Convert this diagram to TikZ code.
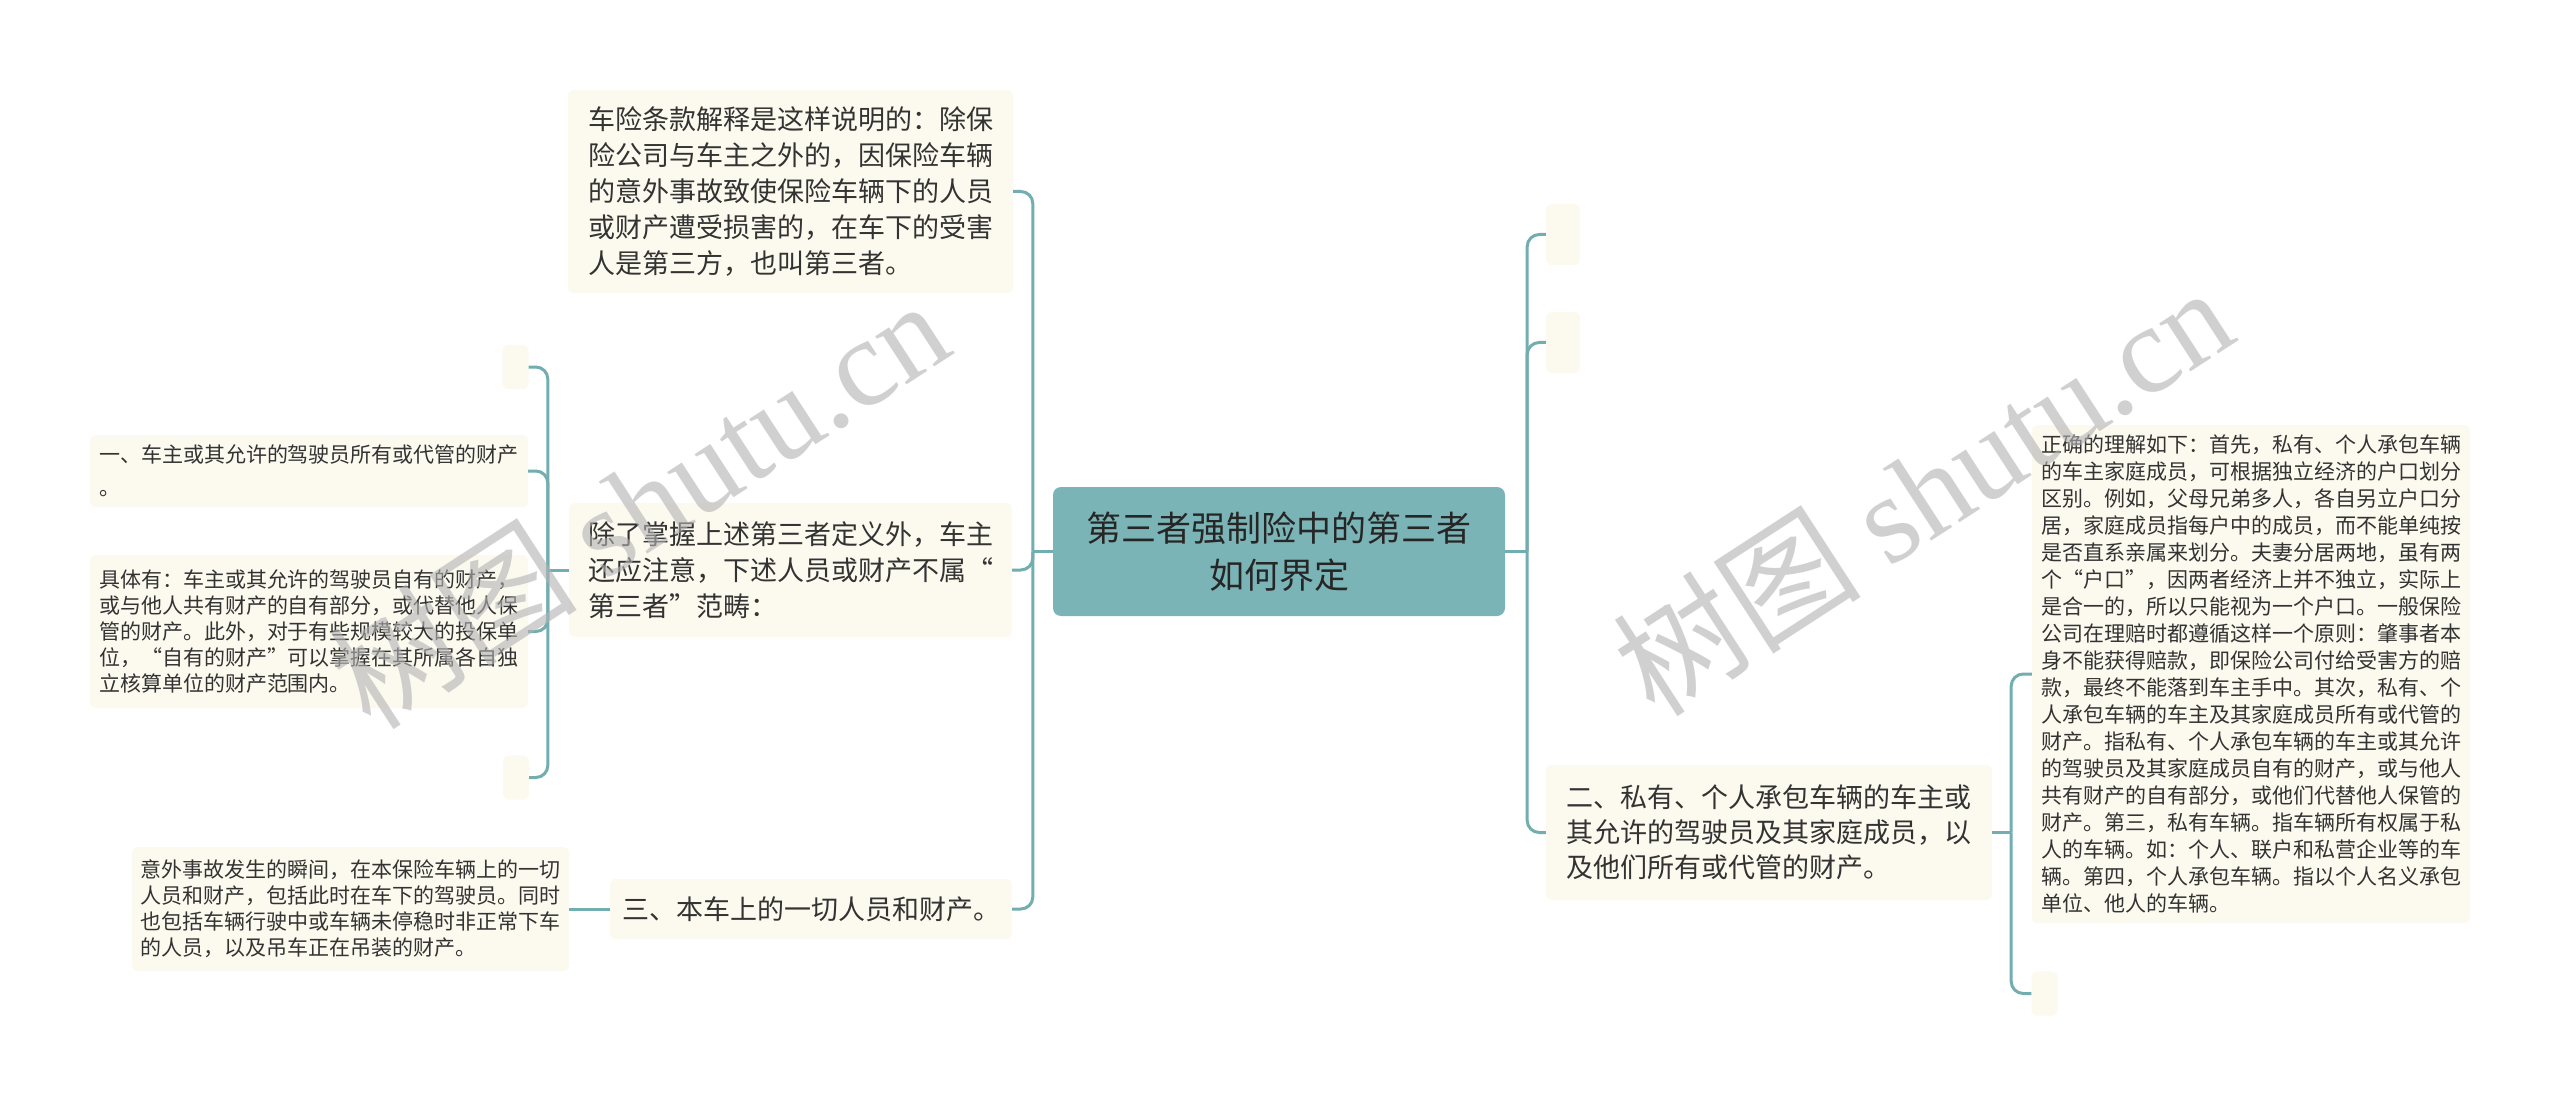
\documentclass[tikz,border=0pt]{standalone}
\usepackage{fontspec}
\setmainfont{Noto Sans CJK SC}
\newfontfamily\wmfont{Liberation Serif}
\usepackage{tikz}

\definecolor{linkc}{HTML}{72AEB0}
\definecolor{rootc}{HTML}{7BB4B6}
\definecolor{leafc}{HTML}{FCF9EE}
\definecolor{txtc}{HTML}{333333}

\begin{document}
\begin{tikzpicture}[x=1pt,y=-1pt,
  link/.style={draw=linkc,line width=3pt,rounded corners=12pt},
  leaf/.style={fill=leafc,rounded corners=6pt,text=txtc,align=left,inner sep=0pt},
  big/.style={leaf,font=\fontsize{27pt}{36pt}\selectfont},
  small/.style={leaf,font=\fontsize{21pt}{26pt}\selectfont},
  empty/.style={leaf,minimum width=26pt,minimum height=44pt},
  wmark/.style={rotate=33,text=black!30,text opacity=0.6,font=\fontsize{125pt}{125pt}\selectfont}]
\useasboundingbox[fill=white] (0,0) rectangle (2560,1107);

\node[fill=rootc,rounded corners=8pt,text=black!85,align=center,minimum width=452pt,minimum height=129pt,
  font=\fontsize{35pt}{47pt}\selectfont] (root) at (1279,551.5) {第三者强制险中的第三者\\如何界定};

\node[big,minimum width=445pt,minimum height=203pt] (l1) at (790.5,191.5)
  {车险条款解释是这样说明的：除保\\险公司与车主之外的，因保险车辆\\的意外事故致使保险车辆下的人员\\或财产遭受损害的，在车下的受害\\人是第三方，也叫第三者。};
\node[big,minimum width=443pt,minimum height=134pt] (l2) at (790.5,570)
  {除了掌握上述第三者定义外，车主\\还应注意，下述人员或财产不属“\\第三者”范畴：};
\node[big,minimum width=402pt,minimum height=60pt] (l3) at (811,909) {三、本车上的一切人员和财产。};

\node[empty] (l2a) at (515.5,367) {};
\node[small,minimum width=438pt,minimum height=72pt] (l2b) at (309,471)
  {一、车主或其允许的驾驶员所有或代管的财产\\[7pt]。};
\node[small,minimum width=438pt,minimum height=153pt] (l2c) at (309,631.5)
  {具体有：车主或其允许的驾驶员自有的财产，\\或与他人共有财产的自有部分，或代替他人保\\管的财产。此外，对于有些规模较大的投保单\\位，“自有的财产”可以掌握在其所属各自独\\立核算单位的财产范围内。};
\node[empty] (l2d) at (516,777.5) {};
\node[small,minimum width=437pt,minimum height=124pt] (l3a) at (350.5,909)
  {意外事故发生的瞬间，在本保险车辆上的一切\\人员和财产，包括此时在车下的驾驶员。同时\\也包括车辆行驶中或车辆未停稳时非正常下车\\的人员，以及吊车正在吊装的财产。};

\node[empty,minimum width=34pt,minimum height=61pt] (r1) at (1563,234.5) {};
\node[empty,minimum width=34pt,minimum height=61pt] (r2) at (1563,342.5) {};
\node[big,minimum width=446pt,minimum height=135pt,font=\fontsize{27pt}{35pt}\selectfont] (r3) at (1769,832.5)
  {二、私有、个人承包车辆的车主或\\其允许的驾驶员及其家庭成员，以\\及他们所有或代管的财产。};
\node[small,minimum width=438pt,minimum height=498pt,font=\fontsize{21pt}{27pt}\selectfont] (r3a) at (2251,674)
  {正确的理解如下：首先，私有、个人承包车辆\\的车主家庭成员，可根据独立经济的户口划分\\区别。例如，父母兄弟多人，各自另立户口分\\居，家庭成员指每户中的成员，而不能单纯按\\是否直系亲属来划分。夫妻分居两地，虽有两\\个“户口”，因两者经济上并不独立，实际上\\是合一的，所以只能视为一个户口。一般保险\\公司在理赔时都遵循这样一个原则：肇事者本\\身不能获得赔款，即保险公司付给受害方的赔\\款，最终不能落到车主手中。其次，私有、个\\人承包车辆的车主及其家庭成员所有或代管的\\财产。指私有、个人承包车辆的车主或其允许\\的驾驶员及其家庭成员自有的财产，或与他人\\共有财产的自有部分，或他们代替他人保管的\\财产。第三，私有车辆。指车辆所有权属于私\\人的车辆。如：个人、联户和私营企业等的车\\辆。第四，个人承包车辆。指以个人名义承包\\单位、他人的车辆。};
\node[empty] (r3b) at (2044.5,993.5) {};

\draw[link] (root.west) -- ++(-20,0) coordinate (lj);
\draw[link] (lj) |- (l1.east);
\draw[link] (lj) |- (l2.east);
\draw[link] (lj) |- (l3.east);
\draw[link] (l2.west) -- ++(-21,0) coordinate (lj2);
\draw[link] (lj2) |- (l2a.east);
\draw[link] (lj2) |- (l2b.east);
\draw[link] (lj2) |- (l2c.east);
\draw[link] (lj2) |- (l2d.east);
\draw[link] (l3.west) -- (l3a.east);

\draw[link] (root.east) -- ++(22,0) coordinate (rj);
\draw[link] (rj) |- (r1.west);
\draw[link] (rj) |- (r2.west);
\draw[link] (rj) |- (r3.west);
\draw[link] (r3.east) -- ++(19,0) coordinate (rj3);
\draw[link] (rj3) |- (r3a.west);
\draw[link] (rj3) |- (r3b.west);

\node[wmark] (wm1) at (638,503) {树图 {\wmfont shutu.cn}};
\node[wmark] (wm2) at (1922,490) {树图 {\wmfont shutu.cn}};
\end{tikzpicture}
\end{document}
